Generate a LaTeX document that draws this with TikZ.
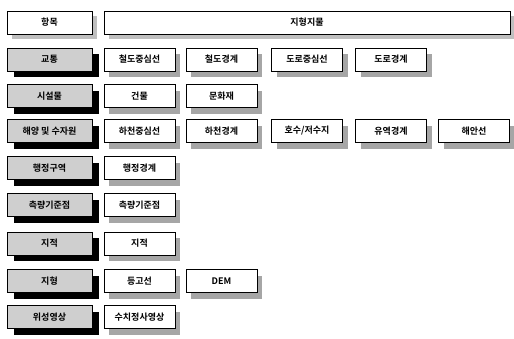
\documentclass[tikz,border=0pt]{standalone}
\usepackage{fontspec}
\newfontfamily\kr{Noto Sans CJK KR}[BoldFont={Noto Sans CJK KR Bold}]
\begin{document}
\begin{tikzpicture}[x=1pt,y=-1pt,
  lbl/.style={font=\kr\bfseries\fontsize{9}{10}\selectfont, inner sep=0pt, align=center},
  box/.style={lbl, draw=black, line width=0.6pt, minimum height=23pt},
  cat/.style={box, fill=gray!38, minimum width=85pt},
  item/.style={box, fill=white, minimum width=71pt},
  head/.style={box, fill=white},
  catshadow/.style={fill=black},
  itemshadow/.style={fill=gray!70},
  headshadow/.style={fill=gray!50}
]
\useasboundingbox (0,0) rectangle (514,338);
\fill[white] (0,0) rectangle (514,338);
% header shadows
\fill[headshadow] (12,16) rectangle (97,39);
\fill[headshadow] (109,16) rectangle (515,39);
% category shadows
\fill[catshadow] (14,54) rectangle (99,77);
\fill[catshadow] (14,90.5) rectangle (99,113.5);
\fill[catshadow] (14,125.5) rectangle (99,148.5);
\fill[catshadow] (14,162.5) rectangle (99,185.5);
\fill[catshadow] (14,199.5) rectangle (99,222.5);
\fill[catshadow] (14,238) rectangle (99,261);
\fill[catshadow] (14,275.5) rectangle (99,298.5);
\fill[catshadow] (14,311.5) rectangle (99,334.5);
% item shadows, row 1
\fill[itemshadow] (109,54) rectangle (180,77);
\fill[itemshadow] (191,54) rectangle (262,77);
\fill[itemshadow] (276.5,54) rectangle (347.5,77);
\fill[itemshadow] (360.5,54) rectangle (431.5,77);
% row 2
\fill[itemshadow] (109,90.5) rectangle (180,113.5);
\fill[itemshadow] (191,90.5) rectangle (262,113.5);
% row 3
\fill[itemshadow] (109,125.5) rectangle (180,148.5);
\fill[itemshadow] (191,125.5) rectangle (262,148.5);
\fill[itemshadow] (276.5,125.5) rectangle (347.5,148.5);
\fill[itemshadow] (360.5,125.5) rectangle (431.5,148.5);
\fill[itemshadow] (443.5,125.5) rectangle (514,148.5);
% rows 4-8
\fill[itemshadow] (109,162.5) rectangle (180,185.5);
\fill[itemshadow] (109,199.5) rectangle (180,222.5);
\fill[itemshadow] (109,238) rectangle (180,261);
\fill[itemshadow] (109,275.5) rectangle (180,298.5);
\fill[itemshadow] (191,275.5) rectangle (262,298.5);
\fill[itemshadow] (109,311.5) rectangle (180,334.5);
% header
\node[head, minimum width=85pt] (h0) at (49.5,22.5) {항목};
\node[head, minimum width=406pt] (h1) at (307,22.5) {지형지물};
% categories
\node[cat] (c1) at (49.5,59.5) {교통};
\node[cat] (c2) at (49.5,96) {시설물};
\node[cat] (c3) at (49.5,131) {해양 및 수자원};
\node[cat] (c4) at (49.5,168) {행정구역};
\node[cat] (c5) at (49.5,205) {측량기준점};
\node[cat] (c6) at (49.5,243.5) {지적};
\node[cat] (c7) at (49.5,281) {지형};
\node[cat] (c8) at (49.5,317) {위성영상};
% items
\node[item] (i11) at (139.5,59.5) {철도중심선};
\node[item] (i12) at (221.5,59.5) {철도경계};
\node[item] (i13) at (307,59.5) {도로중심선};
\node[item] (i14) at (391,59.5) {도로경계};
\node[item] (i21) at (139.5,96) {건물};
\node[item] (i22) at (221.5,96) {문화재};
\node[item] (i31) at (139.5,131) {하천중심선};
\node[item] (i32) at (221.5,131) {하천경계};
\node[item] (i33) at (307,131) {호수/저수지};
\node[item] (i34) at (391,131) {유역경계};
\node[item] (i35) at (474,131) {해안선};
\node[item] (i41) at (139.5,168) {행정경계};
\node[item] (i51) at (139.5,205) {측량기준점};
\node[item] (i61) at (139.5,243.5) {지적};
\node[item] (i71) at (139.5,281) {등고선};
\node[item] (i72) at (221.5,281) {DEM};
\node[item] (i81) at (139.5,317) {수치정사영상};
\end{tikzpicture}
\end{document}
